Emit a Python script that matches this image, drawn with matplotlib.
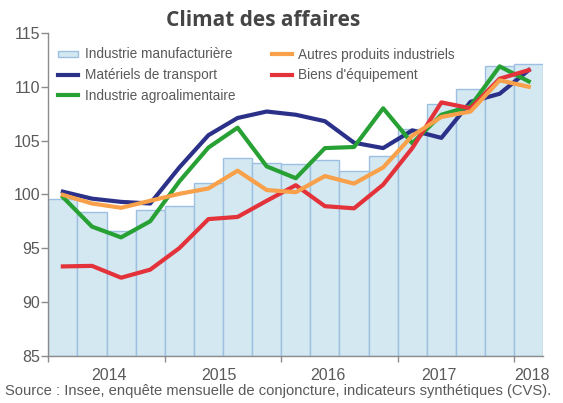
import matplotlib
matplotlib.use("Agg")
import matplotlib.pyplot as plt
from matplotlib import font_manager
from matplotlib.patches import Rectangle
from matplotlib.legend_handler import HandlerPatch

# ---------------- data ----------------
years = ["2014", "2015", "2016", "2017", "2018"]
year_label_pos = [1.6, 5.35, 9.1, 12.9, 16.1]
year_bounds = [-0.5, 3.5, 7.5, 11.5, 15.5]

manufacturiere = [99.6, 98.4, 96.6, 98.55, 98.9, 101.05, 103.4, 102.9, 102.8,
                  103.2, 102.2, 103.6, 106.1, 108.4, 109.75, 111.9, 112.15]
transport = [100.25, 99.6, 99.3, 99.15, 102.5, 105.5, 107.1, 107.7, 107.4,
             106.8, 104.8, 104.3, 105.95, 105.25, 108.6, 109.35, 111.55]
agroalim = [99.75, 97.0, 96.0, 97.5, 101.2, 104.35, 106.2, 102.6, 101.5,
            104.3, 104.4, 108.0, 104.75, 107.4, 108.2, 111.9, 110.5]
autres = [99.95, 99.15, 98.75, 99.4, 100.05, 100.55, 102.2, 100.4, 100.2,
          101.7, 101.0, 102.5, 105.45, 107.2, 107.7, 110.6, 110.0]
equipement = [93.3, 93.35, 92.25, 93.0, 95.0, 97.7, 97.9, 99.4, 100.85,
              98.9, 98.7, 100.9, 104.3, 108.55, 108.0, 110.75, 111.55]

yticks = [85, 90, 95, 100, 105, 110, 115]

# ---------------- fonts ----------------
available = {f.name for f in font_manager.fontManager.ttflist}
narrow = "Liberation Sans Narrow" if "Liberation Sans Narrow" in available else "Liberation Sans"
is_narrow = narrow == "Liberation Sans Narrow"
fs_leg = 10.7 if is_narrow else 9.8
fs_tick = 12.5 if is_narrow else 11.5
fs_src = 11.8 if is_narrow else 10.6

grey = "#595959"
spine_c = "#8c8c8c"

fig = plt.figure(figsize=(5.63, 4.03), dpi=100)
ax = fig.add_axes([48.3 / 563, 47.3 / 403, 495 / 563, 322.7 / 403])

x = list(range(len(manufacturiere)))
ax.bar(x, [v - 85 for v in manufacturiere], bottom=85, width=1.0,
       color="#d3e8f1", edgecolor="#9dc0e2", linewidth=1.0, zorder=1)

lw = 3.0
l_tr, = ax.plot(x, transport, color="#2b3189", lw=lw, zorder=3)
l_ag, = ax.plot(x, agroalim, color="#27a034", lw=lw, zorder=4)
l_eq, = ax.plot(x, equipement, color="#e4323a", lw=lw, zorder=5)
l_au, = ax.plot(x, autres, color="#f8a04a", lw=lw, zorder=6)

ax.set_xlim(-0.5, len(x) - 0.5)
ax.set_ylim(85, 115)

for s in ["top", "right"]:
    ax.spines[s].set_visible(False)
for s in ["left", "bottom"]:
    ax.spines[s].set_color(spine_c)
    ax.spines[s].set_linewidth(1.0)
ax.spines["left"].set_zorder(7)

ax.set_yticks(yticks)
ax.set_yticklabels([str(v) for v in yticks])
ax.tick_params(axis="y", direction="out", length=5, width=1, color=spine_c,
               pad=1, labelsize=fs_tick, labelcolor=grey)
for t in ax.get_yticklabels():
    t.set_fontfamily(narrow)

ax.set_xticks(year_bounds)
ax.set_xticklabels([""] * len(year_bounds))
ax.set_xticks(year_label_pos, minor=True)
ax.set_xticklabels(years, minor=True)
ax.tick_params(axis="x", which="major", direction="out", length=4, width=1, color=spine_c)
ax.tick_params(axis="x", which="minor", length=0, pad=9, labelsize=fs_tick, labelcolor=grey)
for t in ax.get_xticklabels(minor=True):
    t.set_fontfamily(narrow)

# ---------------- legends ----------------
def small_rect(legend, orig_handle, xdescent, ydescent, width, height, fontsize):
    return Rectangle((-xdescent, -ydescent + height * 0.2), width, height * 0.55)

bar_handle = Rectangle((0, 0), 1, 1, facecolor="#d3e8f1", edgecolor="#9dc0e2", linewidth=1.0)
hmap = {Rectangle: HandlerPatch(patch_func=small_rect)}
leg_kw = dict(frameon=False, prop={"family": narrow, "size": fs_leg},
              handlelength=1.5, handletextpad=0.45, labelspacing=0.5,
              borderpad=0, borderaxespad=0, labelcolor=grey, handler_map=hmap)

leg1 = ax.legend([bar_handle, l_tr, l_ag],
                 ["Industrie manufacturière", "Matériels de transport",
                  "Industrie agroalimentaire"],
                 loc="upper left", bbox_to_anchor=(58 / 563, 1 - 47.5 / 403),
                 bbox_transform=fig.transFigure, **leg_kw)
ax.add_artist(leg1)
leg2 = ax.legend([l_au, l_eq], ["Autres produits industriels", "Biens d'équipement"],
                 loc="upper left", bbox_to_anchor=(271.5 / 563, 1 - 47.5 / 403),
                 bbox_transform=fig.transFigure, **leg_kw)
for lg in (leg1, leg2):
    lg.set_zorder(10)

fig.text(263 / 563, 1 - 20 / 403, "Climat des affaires", ha="center", va="center",
         fontsize=15, fontweight="bold", family="Open Sans", color="#454545")
fig.text(5 / 563, 1 - 390.5 / 403,
         "Source : Insee, enquête mensuelle de conjoncture, indicateurs synthétiques (CVS).",
         ha="left", va="center", fontsize=fs_src, family=narrow, color=grey)

fig.savefig("out.png", dpi=100)
